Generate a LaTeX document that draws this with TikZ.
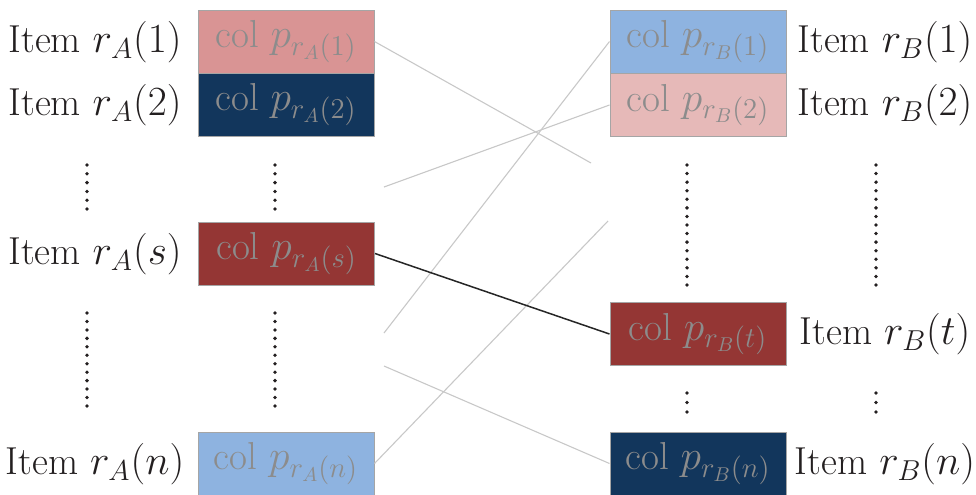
\documentclass[tikz,border=0pt]{standalone}
\usepackage{xcolor}
\definecolor{lightred}{RGB}{217,148,148}
\definecolor{navyA}{RGB}{18,54,92}
\definecolor{darkred}{RGB}{148,54,52}
\definecolor{lightblue}{RGB}{142,179,224}
\definecolor{palepink}{RGB}{230,185,184}
\definecolor{boxborder}{RGB}{165,165,165}
\definecolor{boxtext}{RGB}{140,140,140}
\definecolor{linegrey}{RGB}{200,200,200}
\definecolor{labeltext}{RGB}{35,31,32}
\begin{document}
\begin{tikzpicture}[x=0.5pt,y=-0.5pt,
  colbox/.style={draw=boxborder, line width=0.5pt, minimum width=88pt, minimum height=31.5pt,
    inner sep=0pt, text=boxtext, font=\fontsize{19.5}{23}\selectfont},
  itemlabel/.style={inner sep=0pt, text=labeltext, font=\fontsize{19.5}{23}\selectfont},
  thinline/.style={draw=linegrey, line width=0.55pt},
  matchline/.style={draw=black!85, line width=0.75pt},
  dotmark/.style={fill=labeltext, draw=none}]
\useasboundingbox (0,0) rectangle (976,494);
% left boxes
\node[colbox, fill=lightred] (a1) at (286,41.5) {col $p_{r_A(1)}$};
\node[colbox, fill=navyA] (a2) at (286,104.5) {col $p_{r_A(2)}$};
\node[colbox, fill=darkred] (as) at (286.5,253.5) {col $p_{r_A(s)}$};
\node[colbox, fill=lightblue] (an) at (286,463.5) {col $p_{r_A(n)}$};
% right boxes
\node[colbox, fill=lightblue] (b1) at (698,41.5) {col $p_{r_B(1)}$};
\node[colbox, fill=palepink] (b2) at (698,105) {col $p_{r_B(2)}$};
\node[colbox, fill=darkred] (bt) at (698,334) {col $p_{r_B(t)}$};
\node[colbox, fill=navyA] (bn) at (698,463.5) {col $p_{r_B(n)}$};
% left labels
\node[itemlabel] (la1) at (95,42) {Item $r_A(1)$};
\node[itemlabel] (la2) at (95,105) {Item $r_A(2)$};
\node[itemlabel] (las) at (95,254) {Item $r_A(s)$};
\node[itemlabel] (lan) at (95,464) {Item $r_A(n)$};
% right labels
\node[itemlabel] (lb1) at (885,42) {Item $r_B(1)$};
\node[itemlabel] (lb2) at (885,105) {Item $r_B(2)$};
\node[itemlabel] (lbt) at (885,334) {Item $r_B(t)$};
\node[itemlabel] (lbn) at (885,464) {Item $r_B(n)$};
% dots
\foreach \x in {87,275}{
  \foreach \i in {0,...,5}{\fill[dotmark] (\x,165+\i*8.8) circle (1.9);}
  \foreach \i in {0,...,11}{\fill[dotmark] (\x,313+\i*8.45) circle (1.9);}
}
\foreach \x in {687,876}{
  \foreach \i in {0,...,14}{\fill[dotmark] (\x,165+\i*8.57) circle (1.9);}
  \foreach \i in {0,...,2}{\fill[dotmark] (\x,393+\i*9.5) circle (1.9);}
}
% free ends
\coordinate (e1) at (591,163);
\coordinate (s2) at (384,187);
\coordinate (s3) at (384,333);
\coordinate (e4) at (608,221);
\coordinate (s5) at (384,366);
% connectors
\draw[thinline] (a1.east) -- (e1);
\draw[thinline] (s2) -- (b2.west);
\draw[thinline] (s3) -- (b1.west);
\draw[thinline] (an.east) -- (e4);
\draw[thinline] (s5) -- (bn.west);
\draw[matchline] (as.east) -- (bt.west);
\end{tikzpicture}
\end{document}
